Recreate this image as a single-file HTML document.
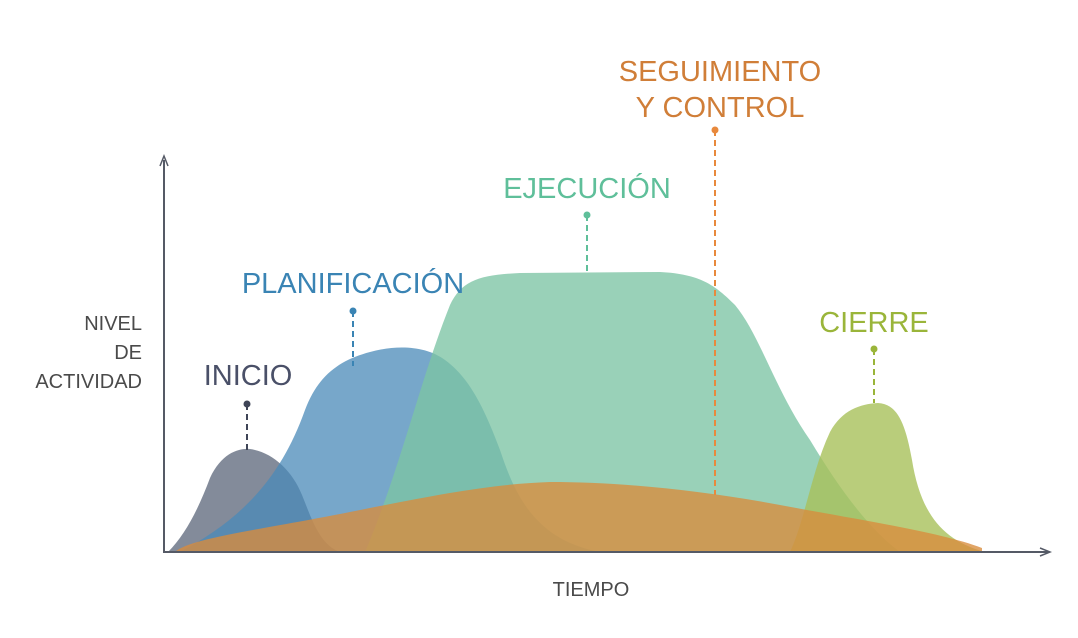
<!DOCTYPE html>
<html><head><meta charset="utf-8"><style>
html,body{margin:0;padding:0;background:#fff;width:1078px;height:638px;overflow:hidden}
svg{display:block}
text{font-family:"Liberation Sans",sans-serif}
</style></head><body>
<svg width="1078" height="638" viewBox="0 0 1078 638">
<!-- shapes -->
<path d="M168,552 C185,535 198,510 210,478 C222,452 240,448 250,449 C272,452 292,470 302,495 C312,520 320,545 340,552 Z" fill="#5a6478" opacity="0.75"/>
<path d="M180,552 C240,520 280,480 305,410 C318,375 340,360 370,352 C395,345 425,345 445,360 C470,378 485,410 500,450 C515,495 535,540 600,552 Z" fill="#4a8ab8" opacity="0.75"/>
<path d="M365,552 C400,470 420,380 450,305 C462,280 480,275 520,273 L660,272 C700,274 715,285 735,305 C760,335 775,390 810,440 C840,490 870,530 900,552 Z" fill="#7cc4a4" opacity="0.78"/>
<path d="M790,552 C805,520 812,470 830,432 C842,410 860,404 878,403 C896,404 905,420 912,460 C920,510 940,540 985,552 Z" fill="#a8c05a" opacity="0.8"/>
<path d="M175,552 C190,538 260,530 350,512 C430,496 490,484 550,482 C620,482 700,490 780,505 C860,520 940,532 982,548 L982,552 Z" fill="#d98c3c" opacity="0.78"/>
<!-- axes -->
<line x1="164" y1="160" x2="164" y2="553" stroke="#555a66" stroke-width="2"/>
<path d="M160,166 L164,156 L168,166" fill="none" stroke="#555a66" stroke-width="1.5"/>
<line x1="163" y1="552" x2="1048" y2="552" stroke="#555a66" stroke-width="2"/>
<path d="M1040,548 L1050,552 L1040,556" fill="none" stroke="#555a66" stroke-width="1.5"/>
<!-- connectors -->
<g stroke-width="2" stroke-dasharray="6,4">
<line x1="247" y1="404" x2="247" y2="450" stroke="#3f4557"/>
<line x1="353" y1="311" x2="353" y2="366" stroke="#3a84b4"/>
<line x1="587" y1="215" x2="587" y2="272" stroke="#5fbf9a"/>
<line x1="715" y1="130" x2="715" y2="495" stroke="#e8893c"/>
<line x1="874" y1="349" x2="874" y2="403" stroke="#9ab53a"/>
</g>
<circle cx="247" cy="404" r="3.5" fill="#3f4557"/>
<circle cx="353" cy="311" r="3.5" fill="#3a84b4"/>
<circle cx="587" cy="215" r="3.5" fill="#5fbf9a"/>
<circle cx="715" cy="130" r="3.5" fill="#e8893c"/>
<circle cx="874" cy="349" r="3.5" fill="#9ab53a"/>
<!-- labels -->
<g font-size="29" text-anchor="middle">
<text x="248" y="385" fill="#4a5068">INICIO</text>
<text x="353" y="293" fill="#3a84b4">PLANIFICACIÓN</text>
<text x="587" y="198" fill="#5fbf9a">EJECUCIÓN</text>
<text x="720" y="81" fill="#d07e38">SEGUIMIENTO</text>
<text x="720" y="117" fill="#d07e38">Y CONTROL</text>
<text x="874" y="332" fill="#9ab53a">CIERRE</text>
</g>
<g font-size="20" fill="#4a4a4a" text-anchor="end">
<text x="142" y="330">NIVEL</text>
<text x="142" y="359">DE</text>
<text x="142" y="388">ACTIVIDAD</text>
</g>
<text x="591" y="596" font-size="20" fill="#4a4a4a" text-anchor="middle">TIEMPO</text>
</svg>
</body></html>
